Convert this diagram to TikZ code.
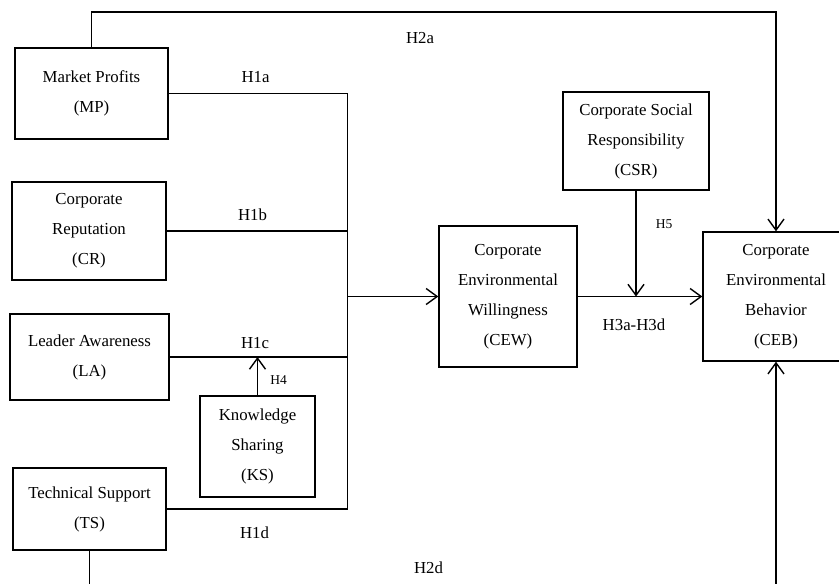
\documentclass[tikz,border=0pt]{standalone}
\usepackage{fontspec}
\setmainfont{Liberation Serif}
\usetikzlibrary{arrows.meta}

\begin{document}
\begin{tikzpicture}[x=1pt, y=-1pt, line width=1.4pt]
        \tikzstyle{factor} = [rectangle, draw=black, align=center, inner sep=0pt,
          font=\fontsize{16.8}{30}\selectfont]
        \tikzstyle{hyp} = [inner sep=0pt, font=\fontsize{16.8}{20}\selectfont]
        \tikzstyle{hypsmall} = [inner sep=0pt, font=\fontsize{13.5}{16}\selectfont]
        \tikzstyle{link} = [-{Straight Barb[length=11pt, width=16pt]}]

        \useasboundingbox (0,0) rectangle (839,584);
        \clip (0,0) rectangle (839,584);

        \node[factor, minimum width=153pt, minimum height=91pt] (mp) at (91.5,93.5) {Market Profits\\(MP)};
        \node[factor, minimum width=154pt, minimum height=98pt] (cr) at (89,231) {Corporate\\Reputation\\(CR)};
        \node[factor, minimum width=159pt, minimum height=86pt] (la) at (89.5,357) {Leader Awareness\\(LA)};
        \node[factor, minimum width=115pt, minimum height=101pt] (ks) at (257.5,446.5) {Knowledge\\Sharing\\(KS)};
        \node[factor, minimum width=153pt, minimum height=82pt] (ts) at (89.5,509) {Technical Support\\(TS)};
        \node[factor, minimum width=146pt, minimum height=98pt] (csr) at (636,141) {Corporate Social\\Responsibility\\(CSR)};
        \node[factor, minimum width=138pt, minimum height=141pt] (cew) at (508,296.5) {Corporate\\Environmental\\Willingness\\(CEW)};
        \node[factor, minimum width=146pt, minimum height=129pt] (ceb) at (776,296.5) {Corporate\\Environmental\\Behavior\\(CEB)};

        % junction and free ends
        \coordinate (jn) at (347.5,296.5);
        \coordinate (toprun) at (91.5,12);
        \coordinate (tsout) at (89.5,590);
        \coordinate (cebin) at (776,590);

        \foreach \src in {mp,cr,la,ts}
          \draw (\src.east) -| (jn);
        \draw[link] (jn) -- (cew.west);
        \draw[link] (cew.east) -- (ceb.west);
        \draw[link] (csr.south) -- (csr.south |- cew.east);
        \draw[link] (ks.north) -- (ks.north |- la.east);
        \draw[link] (mp.north) -- (toprun) -| (ceb.north);
        \draw (ts.south) -- (tsout);
        \draw[link] (cebin) -- (ceb.south);

        \node[hyp] (h2a) at (420,38) {H2a};
        \node[hyp] (h1a) at (255.5,77.5) {H1a};
        \node[hyp] (h1b) at (252.5,215) {H1b};
        \node[hyp] (h1c) at (255,343) {H1c};
        \node[hyp] (h1d) at (254.5,533) {H1d};
        \node[hyp] (h2d) at (428.5,568) {H2d};
        \node[hyp] (h3) at (634,325) {H3a-H3d};
        \node[hypsmall] (h4) at (278.7,380.5) {H4};
        \node[hypsmall] (h5) at (664,224.5) {H5};
      \end{tikzpicture}
\end{document}
